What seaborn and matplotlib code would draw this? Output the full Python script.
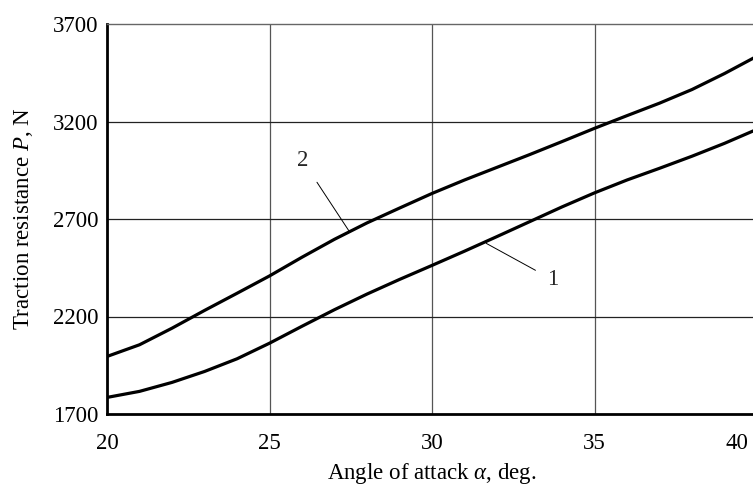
import matplotlib
matplotlib.use("Agg")
import matplotlib.pyplot as plt
import matplotlib.transforms as mtransforms
import seaborn as sns
import pandas as pd

# Data
angle = [20, 21, 22, 23, 24, 25, 26, 27, 28, 29, 30, 31, 32, 33, 34, 35, 36, 37, 38, 39, 40]
curve1 = [1785, 1816, 1862, 1918, 1983, 2063, 2150, 2235, 2315, 2390, 2462, 2535, 2610,
          2686, 2762, 2834, 2900, 2960, 3022, 3088, 3160]
curve2 = [1995, 2055, 2140, 2231, 2319, 2408, 2504, 2596, 2680, 2756, 2831, 2900, 2965,
          3030, 3097, 3165, 3230, 3294, 3364, 3446, 3535]
x_ticks = [20, 25, 30, 35, 40]
y_ticks = [1700, 2200, 2700, 3200, 3700]

sns.set_theme(style="white")
plt.rcParams['font.family'] = ['Liberation Serif', 'DejaVu Serif']
plt.rcParams['mathtext.fontset'] = 'custom'
plt.rcParams['mathtext.rm'] = 'Liberation Serif'
plt.rcParams['mathtext.it'] = 'Liberation Serif:italic'

df = pd.DataFrame({
    "angle": angle * 2,
    "P": curve1 + curve2,
    "curve": ["1"] * len(angle) + ["2"] * len(angle),
})

fs = 16.5
fig = plt.figure(figsize=(7.53, 4.91), dpi=100)
ax = fig.add_axes([107 / 753, 77 / 491, 650 / 753, 390 / 491])

sns.lineplot(data=df, x="angle", y="P", hue="curve", palette=["black", "black"],
             linewidth=2.3, legend=False, ax=ax, sort=True)

ax.set_xlim(20, 40)
ax.set_ylim(1700, 3700)
ax.set_xticks(x_ticks)
ax.set_yticks(y_ticks)
ax.tick_params(axis='both', length=0, labelsize=fs, colors='black')
ax.tick_params(axis='x', pad=14)
ax.tick_params(axis='y', pad=6)

# shift the last x tick label inward as in the reference
last = ax.get_xticklabels()[-1]
last.set_transform(last.get_transform() +
                   mtransforms.ScaledTranslation(-20 / 100, 0, fig.dpi_scale_trans))

for xv in x_ticks[1:-1]:
    ax.axvline(xv, color='#555555', linewidth=0.9, zorder=0)
for yv in y_ticks[1:-1]:
    ax.axhline(yv, color='#222222', linewidth=0.9, zorder=0)

for s in ['left', 'bottom']:
    ax.spines[s].set_color('black')
    ax.spines[s].set_linewidth(2.0)
ax.spines['top'].set_color('#666666')
ax.spines['top'].set_linewidth(1.0)
ax.spines['right'].set_visible(False)

ax.set_xlabel(r"Angle of attack $\alpha$, deg.", fontsize=fs, color='black', labelpad=5)
ax.set_ylabel(r"Traction resistance $P$, N", fontsize=fs, color='black', labelpad=13)

# Curve labels with leader lines
ax.annotate("2", xy=(27.46, 2635), xytext=(26.02, 3000), fontsize=fs,
            ha='center', va='center',
            arrowprops=dict(arrowstyle='-', color='black', lw=0.7,
                            shrinkA=7, shrinkB=0))
ax.annotate("1", xy=(31.67, 2575), xytext=(33.72, 2388), fontsize=fs,
            ha='center', va='center',
            arrowprops=dict(arrowstyle='-', color='black', lw=0.7,
                            shrinkA=7, shrinkB=0))

fig.savefig("out.png", dpi=100)
